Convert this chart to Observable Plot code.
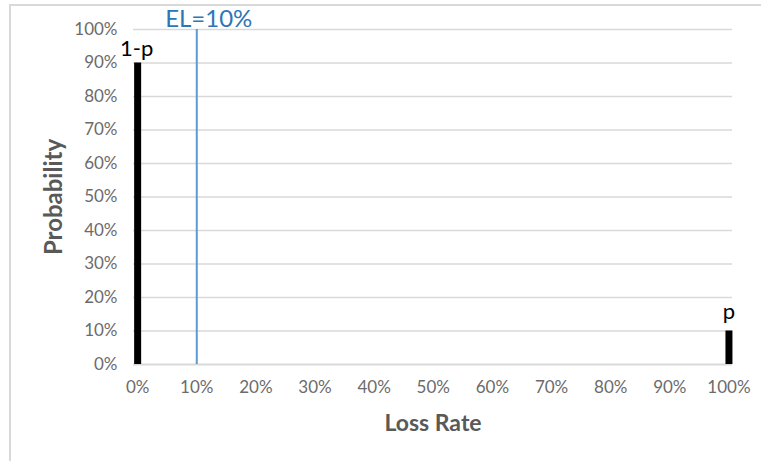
<!DOCTYPE html>
<html>
<head>
<meta charset="utf-8">
<script src="https://cdn.jsdelivr.net/npm/d3@7"></script>
<script src="https://cdn.jsdelivr.net/npm/@observablehq/plot@0.6"></script>
<style>
  html, body { margin: 0; padding: 0; background: #fff; }
  #wrap { position: relative; width: 761px; height: 461px; overflow: hidden; }
  #border { position: absolute; left: 9px; top: 4px; width: 800px; height: 500px; border: 2px solid #d9d9d9; box-sizing: border-box; }
  #chart { position: absolute; left: 0; top: 0; }
  svg { font-family: Lato, "Open Sans", sans-serif; }
</style>
</head>
<body>
<div id="wrap"><div id="border"></div><div id="chart"></div></div>
<script>
const lossRates = [0, 100];
const probabilities = [90, 10];
const barLabels = ["1-p", "p"];
const expectedLoss = 10;
const elLabel = "EL=10%";
const xTicks = [0, 10, 20, 30, 40, 50, 60, 70, 80, 90, 100];
const yTicks = [0, 10, 20, 30, 40, 50, 60, 70, 80, 90, 100];

const bars = lossRates.map((x, i) => ({x, y: probabilities[i], label: barLabels[i]}));

const chart = Plot.plot({
  width: 761,
  height: 461,
  marginLeft: 133,
  marginRight: 29,
  marginTop: 29,
  marginBottom: 97,
  style: {background: "transparent", fontSize: "17px", color: "#595959"},
  x: {domain: [-0.7, 100.6]},
  y: {domain: [0, 100]},
  marks: [
    Plot.gridY(yTicks.filter(d => d > 0), {stroke: "#d9d9d9", strokeOpacity: 1, strokeWidth: 1.5}),
    Plot.ruleY([0], {stroke: "#d9d9d9", strokeWidth: 2}),
    Plot.axisY(yTicks, {tickSize: 0, tickPadding: 16, tickFormat: d => d + "%", label: null, fill: "#6b6b6b", fontSize: 17}),
    Plot.axisX(xTicks, {tickSize: 0, tickPadding: 16, tickFormat: d => d + "%", label: null, fill: "#6b6b6b", fontSize: 17}),
    Plot.ruleX([expectedLoss], {y1: 0, y2: 100, stroke: "#5B9BD5", strokeWidth: 2}),
    Plot.ruleX(bars, {x: "x", y1: 0, y2: "y", stroke: "black", strokeWidth: 7}),
    Plot.text(bars.slice(0, 1), {x: "x", y: "y", text: "label", dy: -7, dx: -1, fill: "black", fontSize: 22, lineAnchor: "bottom"}),
    Plot.text(bars.slice(1), {x: "x", y: "y", text: "label", dy: -12, fill: "black", fontSize: 22, lineAnchor: "bottom"}),
    Plot.text([elLabel], {x: expectedLoss, y: 100, dx: 12, dy: -3, lineAnchor: "bottom", text: d => d, fill: "#2E75B6", fontSize: 24}),
    Plot.text(["Probability"], {frameAnchor: "left", dx: -79, rotate: -90, textAnchor: "middle", lineAnchor: "middle", text: d => d, fontSize: 24, fontWeight: "bold", fill: "#595959"}),
    Plot.text(["Loss Rate"], {frameAnchor: "bottom", dy: 59, textAnchor: "middle", lineAnchor: "middle", text: d => d, fontSize: 23, fontWeight: "bold", fill: "#595959"})
  ]
});
document.getElementById("chart").appendChild(chart);
</script>
</body>
</html>
